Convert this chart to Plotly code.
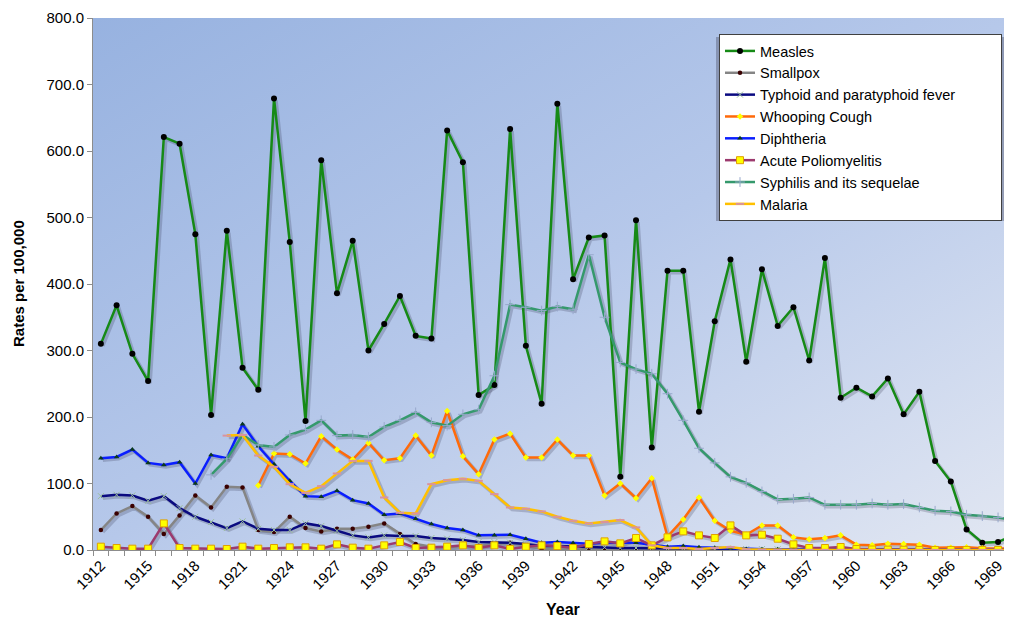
import base64
import plotly.graph_objects as go

years = list(range(1912, 1971))

measles = [310, 368, 295, 254, 621, 611, 475, 203, 480, 274,
           241, 679, 463, 194, 586, 386, 465, 300, 340, 382,
           322, 318, 631, 583, 233, 248, 633, 307, 220, 671,
           407, 470, 473, 110, 496, 154, 420, 420, 208, 344,
           437, 283, 422, 337, 365, 285, 439, 229, 244, 231,
           258, 204, 238, 134, 103, 31, 11, 12, 23]

smallpox = [30, 55, 66, 50, 24, 52, 82, 64, 95, 94,
            30, 27, 50, 33, 28, 32, 32, 35, 40, 24,
            9, 5, 4, 6, 6, 9, 11, 7, 2, 1,
            0.6, 0.6, 0.3, 0.3, 0.3, 0.1, 0, 0, 0, 0,
            0, 0, 0, 0, 0, 0, 0, 0, 0, 0,
            0, 0, 0, 0, 0, 0, 0, 0, 0]

typhoid = [81, 83, 82, 74, 81, 63, 50, 42, 33, 43,
           32, 30, 30, 40, 36, 29, 22, 19, 22, 21,
           21, 18, 17, 15, 12, 12, 11, 9, 6, 6,
           5, 4, 4, 3, 3, 2.5, 2.5, 2.4, 1.6, 1.4,
           1.4, 1.3, 1.3, 1.0, 1.0, 0.7, 0.6, 0.5, 0.5, 0.4,
           0.4, 0.3, 0.3, 0.2, 0.2, 0.2, 0.2, 0.2, 0.2]

whooping = [None, None, None, None, None, None, None, None, None, None,
            97, 145, 144, 130, 171, 151, 136, 161, 135, 138,
            172, 142, 209, 141, 114, 166, 175, 139, 139, 166,
            142, 142, 82, 100, 78, 108, 20, 46, 79, 44,
            29, 23, 37, 37, 19, 16, 18, 22, 8, 7,
            9.5, 9, 8, 3.5, 3.5, 4, 2.5, 2, 2]

diphtheria = [138, 140, 151, 131, 128, 132, 100, 143, 138, 189,
              156, 129, 104, 81, 80, 89, 75, 70, 53, 55,
              47, 39, 33, 30, 22, 22, 23, 17, 11, 12,
              10.5, 9.5, 11, 11, 11, 8, 5, 6, 4, 3.5,
              2.5, 1.5, 1.3, 1.2, 0.9, 0.7, 0.5, 0.5, 0.5, 0.3,
              0.2, 0.2, 0.2, 0.1, 0.1, 0.1, 0.1, 0.1, 0.2]

polio = [5, 3, 2, 2, 40, 3, 2, 2, 1.5, 5,
         2, 3, 4, 4, 2, 8.5, 3.5, 2, 7, 12,
         3, 3.5, 5, 7, 3, 7, 1.5, 5, 7, 6,
         3, 9, 13, 10, 18, 7, 19, 28, 22, 18,
         37, 22, 23, 17, 8.5, 3, 3, 4.5, 1.5, 0.7,
         0.5, 0.3, 0.1, 0.1, 0.1, 0.1, 0.1, 0.1, 0.1]

syphilis = [None, None, None, None, None, None, None, 113, 137, 173,
            158, 155, 173, 181, 195, 172, 173, 170, 185, 195,
            207, 192, 187, 204, 211, 262, 369, 365, 360, 366,
            362, 444, 350, 282, 272, 265, 235, 195, 153, 131,
            110, 101, 88, 76, 77, 79, 68, 68, 68, 70,
            68, 69, 64, 59, 58, 53, 51, 49, 45]

malaria = [None, None, None, None, None, None, None, None, 172, 173,
           142, 125, 99, 86, 96, 115, 134, 134, 79, 56,
           55, 99, 105, 107, 104, 84, 64, 62, 58, 50,
           44, 40, 42, 45, 34, 7, 3, 3, 1.5, 3,
           4.5, 1, 0.5, 0.3, 0.1, 0.1, 0.1, 0.1, 0.1, 0.1,
           0.1, 0.1, 0.1, 0.1, 0.1, 0.1, 0.1, 0.1, 0.1]

tick_years = list(range(1912, 1970, 3))

FONT = "Liberation Sans, Arial, sans-serif"
NBSP = "\u00a0"

series = [
    ("Measles", measles, dict(color="#168a16", width=2.5),
     dict(symbol="circle", size=6, color="#000000")),
    ("Smallpox", smallpox, dict(color="#858585", width=2.5),
     dict(symbol="circle", size=4.5, color="#3a0000")),
    ("Typhoid and paratyphoid fever" + NBSP * 10, typhoid, dict(color="#0a0a80", width=2.5),
     dict(symbol="x-thin", size=6, line=dict(color="#9cbf9c", width=1))),
    ("Whooping Cough", whooping, dict(color="#ff6a0a", width=2.5),
     dict(symbol="diamond", size=5, color="#ffff00")),
    ("Diphtheria", diphtheria, dict(color="#0a1eff", width=2.5),
     dict(symbol="triangle-up", size=5, color="#0b3a1a")),
    ("Acute Poliomyelitis", polio, dict(color="#9c3a6e", width=2.5),
     dict(symbol="square", size=7, color="#ffff00", line=dict(color="#e0a000", width=1))),
    ("Syphilis and its sequelae", syphilis, dict(color="#35996c", width=2.5),
     dict(symbol="cross-thin", size=7, line=dict(color="#98a8cc", width=1))),
    ("Malaria", malaria, dict(color="#ffc000", width=2.5),
     dict(symbol="line-ew", size=6, line=dict(color="#d9939f", width=2))),
]

PX_PER_YEAR = 15.74
PLOT_L, PLOT_T, PLOT_W, PLOT_H = 93, 18, 919, 532
x_range = [1911.5, 1911.5 + PLOT_W / PX_PER_YEAR]
y_range = [0, 800]
shadow_dx = 2.0 / PX_PER_YEAR
shadow_dy = 2.0 * (y_range[1] - y_range[0]) / PLOT_H


def px_x(p):
    return (p - PLOT_L) / PLOT_W


def px_y(p):
    return (PLOT_T + PLOT_H - p) / PLOT_H


fig = go.Figure()
# soft drop shadows drawn on the (hidden, slightly shifted) base axes
for name, vals, line, marker in series:
    fig.add_trace(go.Scatter(x=years, y=vals, mode="lines", showlegend=False,
                             hoverinfo="skip", xaxis="x", yaxis="y",
                             line=dict(color="rgba(40,40,70,0.22)", width=3.5)))
# main series on the visible overlaying axes
for name, vals, line, marker in series:
    fig.add_trace(go.Scatter(x=years, y=vals, name=name, mode="lines+markers",
                             line=line, marker=marker, connectgaps=False,
                             xaxis="x2", yaxis="y2", cliponaxis=True))

svg = ('<svg xmlns="http://www.w3.org/2000/svg" width="919" height="532" '
       'viewBox="0 0 919 532" preserveAspectRatio="none">'
       '<defs><linearGradient id="g" x1="0" y1="0" x2="1" y2="1">'
       '<stop offset="0" stop-color="#97b2e0"/>'
       '<stop offset="0.5" stop-color="#b6c8ea"/>'
       '<stop offset="1" stop-color="#e2e7f2"/>'
       '</linearGradient></defs>'
       '<rect width="919" height="532" fill="url(#g)"/></svg>')
src = "data:image/svg+xml;base64," + base64.b64encode(svg.encode()).decode()

# page offset of 8px (browser body margin) is compensated in size/margins
fig.update_layout(
    width=1004, height=613, autosize=False,
    margin=dict(l=85, r=0, t=10, b=71, autoexpand=False),
    paper_bgcolor="white",
    plot_bgcolor="#b6c8ea",
    font=dict(family=FONT, size=15, color="#000000"),
    images=[dict(source=src, xref="paper", yref="paper", x=0, y=1,
                 sizex=1, sizey=1, sizing="stretch", layer="below",
                 xanchor="left", yanchor="top")],
    legend=dict(x=px_x(719), y=px_y(34), xanchor="left", yanchor="top",
                bgcolor="white", bordercolor="#404040", borderwidth=1,
                font=dict(family=FONT, size=14.5, color="#000000"),
                itemwidth=30, tracegroupgap=0),
    showlegend=True,
    shapes=[dict(type="rect", xref="paper", yref="paper", layer="above",
                 x0=px_x(716), x1=px_x(1006), y0=px_y(221), y1=px_y(37),
                 fillcolor="rgba(60,60,80,0.35)", line=dict(width=0))],
    annotations=[
        dict(text="<b>Rates per 100,000</b>", textangle=-90, xref="paper", yref="paper",
             x=px_x(18), y=0.5, showarrow=False,
             font=dict(family=FONT, size=15, color="#000000"),
             xanchor="center", yanchor="middle"),
        dict(text="<b>Year</b>", xref="paper", yref="paper",
             x=px_x(563), y=px_y(609), showarrow=False,
             font=dict(family=FONT, size=16, color="#000000"),
             xanchor="center", yanchor="middle"),
    ],
    xaxis=dict(range=[x_range[0] - shadow_dx, x_range[1] - shadow_dx], visible=False,
               fixedrange=True),
    yaxis=dict(range=[y_range[0] + shadow_dy, y_range[1] + shadow_dy], visible=False,
               fixedrange=True),
    xaxis2=dict(
        overlaying="x", anchor="y2", side="bottom",
        range=x_range,
        tickmode="array", tickvals=tick_years, ticktext=[str(y) for y in tick_years],
        tickangle=-45, ticks="", showgrid=False, zeroline=False,
        showline=True, linecolor="#8c8c8c", linewidth=1,
        tickfont=dict(family=FONT, size=15, color="#000000"),
        minor=dict(tickmode="linear", tick0=1911.5, dtick=1, ticks="outside",
                   ticklen=5, tickcolor="#8c8c8c", showgrid=False),
    ),
    yaxis2=dict(
        overlaying="y", anchor="x2", side="left",
        range=y_range, tickmode="linear", tick0=0, dtick=100, tickformat=".1f",
        ticks="outside", ticklen=5, tickcolor="#8c8c8c",
        showgrid=False, zeroline=False,
        showline=True, linecolor="#8c8c8c", linewidth=1,
        tickfont=dict(family=FONT, size=15, color="#000000"),
    ),
)

fig.write_html("out.html")
